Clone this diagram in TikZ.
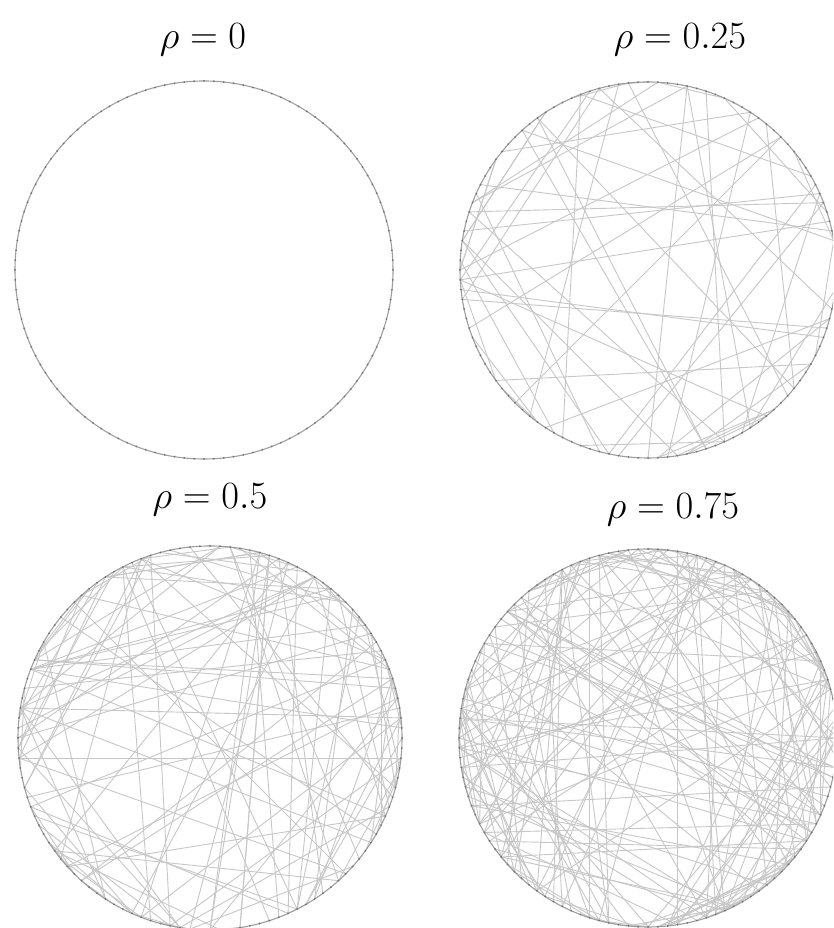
\documentclass[tikz,border=0pt]{standalone}
\tikzset{
  chord/.style={draw=black!22, line width=0.9pt},
  ringline/.style={draw=black!38, line width=1.1pt},
  vdot/.style={fill=black!55},
  lab/.style={font=\Huge, inner sep=0pt},
}
\newcommand{\wschords}[5]{% cx, cy, r, nchords, seed
  \pgfmathsetseed{#5}
  \foreach \i in {1,...,#4}{
    \pgfmathrandominteger{\ea}{0}{119}
    \pgfmathrandominteger{\eb}{0}{119}
    \draw[chord] ({#1+#3*cos(3*\ea)},{#2+#3*sin(3*\ea)}) -- ({#1+#3*cos(3*\eb)},{#2+#3*sin(3*\eb)});
  }
}
\newcommand{\wsring}[3]{% cx, cy, r
  \draw[ringline] (#1,#2) circle (#3pt);
  \foreach \k in {0,...,119}
    \fill[vdot] ({#1+#3*cos(3*\k)},{#2+#3*sin(3*\k)}) circle (1pt);
}
\newcommand{\rholab}[1]{\scalebox{1.55}{$\rho = #1$}}
\begin{document}
\begin{tikzpicture}[x=1pt,y=1pt]
  \useasboundingbox (0,0) rectangle (833,928);
  \clip (0,0) rectangle (833,928);
  \fill[white] (0,0) rectangle (833,928);
  % panel 1
  \wsring{204}{658}{189}
  \node[lab] (l1) at (203,888) {\rholab{0}};
  % panel 2
  \wschords{648}{658}{188}{60}{11}
  \wsring{648}{658}{188}
  \node[lab] (l2) at (680,888) {\rholab{0.25}};
  % panel 3
  \wschords{210}{190}{192}{120}{23}
  \wsring{210}{190}{192}
  \node[lab] (l3) at (210,428) {\rholab{0.5}};
  % panel 4
  \wschords{648}{190}{189}{180}{37}
  \wsring{648}{190}{189}
  \node[lab] (l4) at (673,418) {\rholab{0.75}};
\end{tikzpicture}
\end{document}
